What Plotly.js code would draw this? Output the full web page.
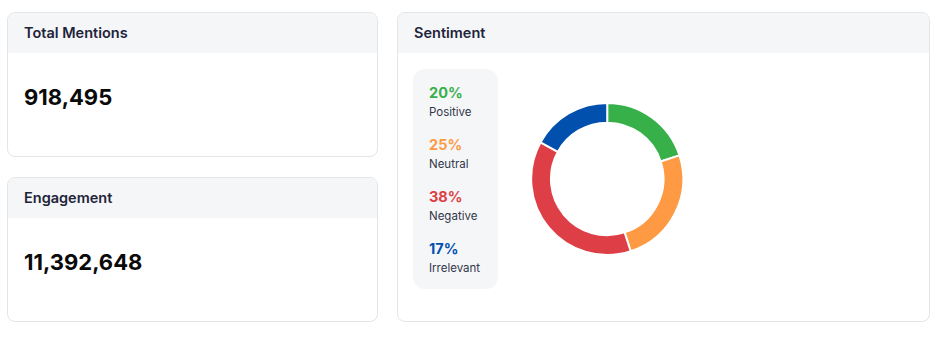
<!DOCTYPE html>
<html>
<head>
<meta charset="utf-8">
<script src="https://cdn.plot.ly/plotly-3.0.1.min.js"></script>
<style>
  html, body { margin:0; padding:0; background:#ffffff; width:943px; height:337px; overflow:hidden; font-family: Inter, "Open Sans", sans-serif; }
  .card { position:absolute; border:1px solid #e3e5e8; border-radius:8px; background:#fff; overflow:hidden; box-sizing:border-box; }
  .hdr { height:40px; background:#f5f6f8; box-sizing:border-box; padding-left:16px; line-height:40px; font-size:14.5px; font-weight:600; color:#22243a; }
  .big { position:absolute; left:16px; font-size:22px; font-weight:700; color:#0a0a0a; }
  .legend { position:absolute; left:15px; top:56px; width:85px; height:220px; background:#f5f6f8; border-radius:12px; }
  .item { position:absolute; left:16px; }
  .pct { font-size:14.5px; font-weight:700; }
  .lab { font-size:11.5px; color:#33364a; margin-top:4px; }
  #donut { position:absolute; left:100px; top:45px; width:420px; height:260px; }
</style>
</head>
<body>
<div class="card" style="left:7px;top:12px;width:371px;height:145px;">
  <div class="hdr" id="t1"></div>
  <div class="big" id="v1" style="top:71px;"></div>
</div>
<div class="card" style="left:7px;top:177px;width:371px;height:145px;">
  <div class="hdr" id="t2"></div>
  <div class="big" id="v2" style="top:71px;"></div>
</div>
<div class="card" style="left:397px;top:12px;width:533px;height:310px;">
  <div class="hdr" id="t3"></div>
  <div class="legend" id="legend"></div>
  <div id="donut"></div>
</div>
<script>
// ---- data ----
const metricTitles = ["Total Mentions", "Engagement"];
const metricValues = [918495, 11392648];
const chartTitle = "Sentiment";
const sentimentLabels = ["Positive", "Neutral", "Negative", "Irrelevant"];
const sentimentValues = [20, 25, 38, 17];
const sentimentColors = ["#37b04a", "#fd9a43", "#de3f46", "#0250ae"];

// ---- cards ----
document.getElementById("t1").textContent = metricTitles[0];
document.getElementById("t2").textContent = metricTitles[1];
document.getElementById("v1").textContent = metricValues[0].toLocaleString("en-US");
document.getElementById("v2").textContent = metricValues[1].toLocaleString("en-US");
document.getElementById("t3").textContent = chartTitle;

const leg = document.getElementById("legend");
sentimentLabels.forEach((lab, i) => {
  const d = document.createElement("div");
  d.className = "item";
  d.style.top = (15 + i * 52) + "px";
  d.innerHTML = '<div class="pct" style="color:' + sentimentColors[i] + '">' + sentimentValues[i] + '%</div>' +
                '<div class="lab">' + lab + '</div>';
  leg.appendChild(d);
});

// ---- donut ----
Plotly.newPlot("donut", [{
  type: "pie",
  labels: sentimentLabels,
  values: sentimentValues,
  hole: 0.74,
  sort: false,
  direction: "clockwise",
  rotation: 0,
  textinfo: "none",
  hoverinfo: "label+percent",
  marker: { colors: sentimentColors, line: { color: "#ffffff", width: 2 } },
  domain: { x: [0.079, 0.441], y: [0.2425, 0.8275] }
}], {
  width: 420, height: 260,
  margin: { l: 0, r: 0, t: 0, b: 0 },
  showlegend: false,
  paper_bgcolor: "rgba(0,0,0,0)",
  plot_bgcolor: "rgba(0,0,0,0)"
}, { displayModeBar: false, staticPlot: true });
</script>
</body>
</html>
